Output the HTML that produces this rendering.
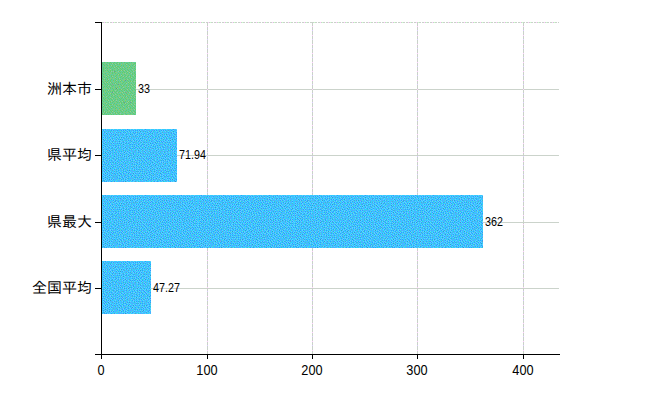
<!DOCTYPE html>
<html><head><meta charset="utf-8">
<style>
html,body{margin:0;padding:0;background:#fff;}
body{width:650px;height:400px;position:relative;overflow:hidden;font-family:"Liberation Sans","Noto Sans CJK JP",sans-serif;color:#000;}
.a{position:absolute;}
.g{position:absolute;background:#cbd3cb;}
.v{background:repeating-linear-gradient(180deg,#c9d2c9 0 4px,#fcf 4px 5px,#c9d2c9 5px 8px,#dcf 8px 9px);}
.k{position:absolute;background:#000;}
.bar{position:absolute;left:102px;height:53px;background:#43c0fa;}
.cat{position:absolute;right:558px;white-space:nowrap;font-family:"Liberation Sans","IPAGothic","Noto Sans CJK JP",sans-serif;font-size:15px;line-height:20px;height:20px;letter-spacing:0px;}
.xl{position:absolute;top:361px;width:60px;margin-left:-31px;text-align:center;font-size:14.8px;line-height:18px;height:18px;transform:scaleX(0.86);}
.dl{position:absolute;white-space:nowrap;font-size:12.5px;line-height:14px;height:14px;transform-origin:0 50%;transform:scaleX(0.86);}
</style></head><body>
<!-- gridlines -->
<div class="g" style="left:102px;top:22px;width:457px;height:1px;background:repeating-linear-gradient(90deg,#c9d2c9 0 2px,#fcf 2px 3px,#c9d2c9 3px 4px,#cfc 4px 5px,#c9d2c9 5px 7px,#fff 7px 8px)"></div>
<div class="g" style="left:102px;top:89px;width:457px;height:1px"></div>
<div class="g" style="left:102px;top:155px;width:457px;height:1px"></div>
<div class="g" style="left:102px;top:222px;width:457px;height:1px"></div>
<div class="g" style="left:102px;top:288px;width:457px;height:1px"></div>
<div class="g v" style="left:207px;top:22px;width:1px;height:332px"></div>
<div class="g v" style="left:312px;top:22px;width:1px;height:332px"></div>
<div class="g v" style="left:417px;top:22px;width:1px;height:332px"></div>
<div class="g v" style="left:523px;top:22px;width:1px;height:332px"></div>
<!-- bars -->
<div class="bar" style="top:62px;width:34px;background:#6ccb88"></div>
<div class="bar" style="top:129px;width:75px"></div>
<div class="bar" style="top:195px;width:381px"></div>
<div class="bar" style="top:261px;width:49px"></div>
<svg class="a" style="left:102px;top:62px" width="381" height="252" viewBox="0 0 381 252" shape-rendering="crispEdges"><defs><pattern id="pb" width="96" height="53" patternUnits="userSpaceOnUse"><rect width="96" height="53" fill="#33ccff"/><g transform="translate(0,.5)" stroke-width="1" fill="none"><path stroke="#3399ff" d="M3 0h1M25 0h1M43 0h1M71 0h1M79 0h1M1 1h1M9 1h1M11 1h1M15 1h1M19 1h1M21 1h1M23 1h1M27 1h1M31 1h1M33 1h1M35 1h1M37 1h1M52 1h1M54 1h1M59 1h1M61 1h1M63 1h1M69 1h1M75 1h1M77 1h1M83 1h1M85 1h1M87 1h1M92 1h1M25 2h1M43 2h1M49 2h1M57 2h1M90 2h1M2 3h1M8 3h1M14 3h1M18 3h1M21 3h1M23 3h1M28 3h1M31 3h1M33 3h1M35 3h1M45 3h1M48 3h1M55 3h1M66 3h1M74 3h1M79 3h1M81 3h1M83 3h1M85 3h1M9 4h1M32 4h1M37 4h1M39 4h1M42 4h1M47 4h1M58 4h1M69 4h1M71 4h1M78 4h1M86 4h1M5 5h1M7 5h1M11 5h1M13 5h1M21 5h1M24 5h1M30 5h1M35 5h1M41 5h1M46 5h1M56 5h1M60 5h1M62 5h1M72 5h1M82 5h1M84 5h1M90 5h1M13 6h1M16 6h1M33 6h1M49 6h1M58 6h1M67 6h1M94 6h1M8 7h1M11 7h1M25 7h1M27 7h1M37 7h1M40 7h1M42 7h1M45 7h1M48 7h1M50 7h1M53 7h1M56 7h1M60 7h1M63 7h1M65 7h1M72 7h1M74 7h1M76 7h1M80 7h1M85 7h1M90 7h1M1 8h1M3 8h1M7 8h1M14 8h1M17 8h1M21 8h1M24 8h1M46 8h1M61 8h1M69 8h1M83 8h1M89 8h1M10 9h1M34 9h1M36 9h1M40 9h1M48 9h1M53 9h1M55 9h1M59 9h1M64 9h1M68 9h1M74 9h1M76 9h1M80 9h1M91 9h1M8 10h1M14 10h1M16 10h1M20 10h1M31 10h1M52 10h1M57 10h1M61 10h1M72 10h1M78 10h1M87 10h1M2 11h1M11 11h1M26 11h1M28 11h1M32 11h1M34 11h1M37 11h1M39 11h1M44 11h1M47 11h1M54 11h1M63 11h1M66 11h1M76 11h1M80 11h1M83 11h1M89 11h1M7 12h1M10 12h1M29 12h1M36 12h1M49 12h1M55 12h1M57 12h1M59 12h1M61 12h1M71 12h1M77 12h1M84 12h1M88 12h1M91 12h1M3 13h1M21 13h1M24 13h1M31 13h1M39 13h1M42 13h1M44 13h1M60 13h1M63 13h1M65 13h1M67 13h1M73 13h1M75 13h1M79 13h1M87 13h1M1 14h1M9 14h1M11 14h1M15 14h1M17 14h1M19 14h1M23 14h1M26 14h1M50 14h1M54 14h1M77 14h1M82 14h1M90 14h1M93 14h1M3 15h1M28 15h1M30 15h1M32 15h1M40 15h1M42 15h1M46 15h1M52 15h1M62 15h1M66 15h1M68 15h1M83 15h1M86 15h1M1 16h1M7 16h1M11 16h1M16 16h1M34 16h1M39 16h1M44 16h1M49 16h1M55 16h1M57 16h1M63 16h1M75 16h1M77 16h1M81 16h1M91 16h1M93 16h1M95 16h1M5 17h1M14 17h1M21 17h1M30 17h1M32 17h1M36 17h1M38 17h1M42 17h1M46 17h1M51 17h1M53 17h1M60 17h1M68 17h1M71 17h1M73 17h1M83 17h1M88 17h1M90 17h1M1 18h1M7 18h1M10 18h1M13 18h1M16 18h1M33 18h1M48 18h1M55 18h1M58 18h1M61 18h1M70 18h1M76 18h1M92 18h1M95 18h1M9 19h1M21 19h1M24 19h1M28 19h1M30 19h1M32 19h1M35 19h1M37 19h1M40 19h1M45 19h1M51 19h1M53 19h1M72 19h1M74 19h1M82 19h1M4 20h1M14 20h1M39 20h1M47 20h1M56 20h1M61 20h1M69 20h1M79 20h1M89 20h1M93 20h1M95 20h1M7 21h1M10 21h1M13 21h1M21 21h1M27 21h1M66 21h1M70 21h1M77 21h1M80 21h1M91 21h1M1 22h1M8 22h1M19 22h1M23 22h1M25 22h1M42 22h1M56 22h1M65 22h1M72 22h1M82 22h1M85 22h1M90 22h1M6 23h1M12 23h1M27 23h1M36 23h1M43 23h1M48 23h1M62 23h1M81 23h1M1 24h1M4 24h1M8 24h1M16 24h1M18 24h1M24 24h1M31 24h1M38 24h1M51 24h1M57 24h1M75 24h1M82 24h1M86 24h1M92 24h1M94 24h1M7 25h1M14 25h1M22 25h1M26 25h1M31 25h1M49 25h1M55 25h1M61 25h1M63 25h1M73 25h1M77 25h1M80 25h1M87 25h1M91 25h1M2 26h1M18 26h1M20 26h1M27 26h1M29 26h1M36 26h1M38 26h1M45 26h1M58 26h1M64 26h1M68 26h1M75 26h1M89 26h1M94 26h1M3 27h1M5 27h1M24 27h1M31 27h1M39 27h1M42 27h1M47 27h1M49 27h1M51 27h1M53 27h1M60 27h1M62 27h1M66 27h1M72 27h1M74 27h1M77 27h1M81 27h1M91 27h1M1 28h1M16 28h1M44 28h1M55 28h1M57 28h1M63 28h1M68 28h1M83 28h1M85 28h1M89 28h1M92 28h1M94 28h1M3 29h1M7 29h1M11 29h1M14 29h1M24 29h1M27 29h1M32 29h1M35 29h1M37 29h1M41 29h1M47 29h1M49 29h1M59 29h1M61 29h1M75 29h1M77 29h1M87 29h1M1 30h1M16 30h1M21 30h1M30 30h1M42 30h1M46 30h1M50 30h1M55 30h1M63 30h1M66 30h1M84 30h1M89 30h1M91 30h1M94 30h1M4 31h1M7 31h1M9 31h1M13 31h1M28 31h1M33 31h1M37 31h1M39 31h1M43 31h1M48 31h1M52 31h1M59 31h1M61 31h1M67 31h1M74 31h1M77 31h1M79 31h1M82 31h1M86 31h1M1 32h1M15 32h1M19 32h1M22 32h1M30 32h1M40 32h1M44 32h1M56 32h1M65 32h1M71 32h1M84 32h1M87 32h1M90 32h1M93 32h1M95 32h1M2 33h1M8 33h1M11 33h1M13 33h1M21 33h1M34 33h1M37 33h1M42 33h1M55 33h1M59 33h1M61 33h1M73 33h1M77 33h1M82 33h1M88 33h1M91 33h1M4 34h1M15 34h1M23 34h1M30 34h1M35 34h1M39 34h1M45 34h1M48 34h1M52 34h1M63 34h1M65 34h1M68 34h1M75 34h1M79 34h1M90 34h1M1 35h1M3 35h1M6 35h1M9 35h1M17 35h1M19 35h1M26 35h1M32 35h1M37 35h1M51 35h1M54 35h1M61 35h1M70 35h1M85 35h1M5 36h1M15 36h1M20 36h1M39 36h1M49 36h1M56 36h1M67 36h1M70 36h1M83 36h1M91 36h1M0 37h1M9 37h1M11 37h1M13 37h1M17 37h1M19 37h1M23 37h1M29 37h1M31 37h1M43 37h1M45 37h1M48 37h1M58 37h1M66 37h1M76 37h1M81 37h1M85 37h1M92 37h1M94 37h1M4 38h1M10 38h1M20 38h1M25 38h1M32 38h1M34 38h1M37 38h1M39 38h1M41 38h1M46 38h1M50 38h1M68 38h1M74 38h1M78 38h1M82 38h1M86 38h1M88 38h1M90 38h1M1 39h1M6 39h1M16 39h1M18 39h1M30 39h1M48 39h1M57 39h1M59 39h1M63 39h1M65 39h1M70 39h1M72 39h1M76 39h1M80 39h1M84 39h1M92 39h1M94 39h1M2 40h1M12 40h1M21 40h1M32 40h1M34 40h1M36 40h1M40 40h1M50 40h1M52 40h1M78 40h1M85 40h1M3 41h1M16 41h1M25 41h1M46 41h1M48 41h1M54 41h1M63 41h1M69 41h1M71 41h1M73 41h1M77 41h1M81 41h1M94 41h1M2 42h1M7 42h1M12 42h1M14 42h1M21 42h1M23 42h1M34 42h1M36 42h1M38 42h1M40 42h1M49 42h1M59 42h1M64 42h1M66 42h1M75 42h1M85 42h1M87 42h1M5 43h1M9 43h1M17 43h1M24 43h1M27 43h1M47 43h1M54 43h1M61 43h1M70 43h1M76 43h1M80 43h1M91 43h1M93 43h1M10 44h1M12 44h1M15 44h1M18 44h1M21 44h1M33 44h1M37 44h1M40 44h1M42 44h1M49 44h1M51 44h1M66 44h1M74 44h1M1 45h1M5 45h1M13 45h1M19 45h1M28 45h1M47 45h1M55 45h1M59 45h1M70 45h1M72 45h1M80 45h1M88 45h1M90 45h1M92 45h1M94 45h1M3 46h1M9 46h1M23 46h1M33 46h1M36 46h1M40 46h1M43 46h1M45 46h1M49 46h1M51 46h1M57 46h1M61 46h1M64 46h1M75 46h1M81 46h1M86 46h1M1 47h1M5 47h1M22 47h1M26 47h1M29 47h1M41 47h1M47 47h1M55 47h1M59 47h1M62 47h1M65 47h1M70 47h1M73 47h1M78 47h1M84 47h1M88 47h1M90 47h1M7 48h1M15 48h1M20 48h1M24 48h1M33 48h1M35 48h1M37 48h1M39 48h1M49 48h1M51 48h1M57 48h1M71 48h1M75 48h1M80 48h1M82 48h1M86 48h1M94 48h1M1 49h1M5 49h1M17 49h1M21 49h1M26 49h1M47 49h1M65 49h1M67 49h1M77 49h1M84 49h1M87 49h1M95 49h1M3 50h1M9 50h1M11 50h1M19 50h1M23 50h1M32 50h1M38 50h1M40 50h1M46 50h1M49 50h1M51 50h1M62 50h1M68 50h1M74 50h1M76 50h1M81 50h1M91 50h1M1 51h1M25 51h1M30 51h1M44 51h1M58 51h1M60 51h1M66 51h1M72 51h1M78 51h1M85 51h1M87 51h1M92 51h1M95 51h1M2 52h1M4 52h1M9 52h1M12 52h1M21 52h1M52 52h1M55 52h1M68 52h1M79 52h1M81 52h1M89 52h1"/><path stroke="#66ccff" d="M4 0h1M8 0h1M11 0h1M15 0h1M19 0h1M24 0h1M28 0h1M31 0h1M34 0h1M41 0h1M48 0h1M52 0h1M55 0h1M59 0h1M64 0h1M69 0h1M74 0h1M80 0h1M83 0h1M88 0h1M92 0h1M0 1h1M2 1h1M10 1h1M20 1h1M22 1h1M25 1h1M32 1h1M36 1h1M38 1h1M43 1h1M53 1h1M60 1h1M62 1h1M71 1h1M76 1h1M78 1h1M84 1h1M86 1h1M91 1h1M14 2h1M23 2h1M26 2h1M30 2h1M34 2h1M37 2h1M46 2h1M50 2h1M54 2h1M59 2h1M63 2h1M66 2h1M69 2h1M74 2h1M79 2h1M82 2h1M85 2h1M87 2h1M93 2h1M1 3h1M4 3h1M7 3h1M9 3h1M13 3h1M20 3h1M24 3h1M27 3h1M29 3h1M32 3h1M39 3h1M42 3h1M47 3h1M49 3h1M57 3h1M70 3h1M72 3h1M75 3h1M80 3h1M84 3h1M90 3h1M3 4h1M8 4h1M10 4h1M14 4h1M17 4h1M21 4h1M23 4h1M34 4h1M38 4h1M40 4h1M45 4h1M51 4h1M56 4h1M60 4h1M65 4h1M70 4h1M73 4h1M77 4h1M79 4h1M82 4h1M85 4h1M89 4h1M4 5h1M6 5h1M12 5h1M22 5h1M27 5h1M31 5h1M33 5h1M36 5h1M42 5h1M47 5h1M49 5h1M58 5h1M63 5h1M71 5h1M83 5h1M86 5h1M91 5h1M94 5h1M11 6h1M14 6h1M25 6h1M28 6h1M32 6h1M35 6h1M40 6h1M42 6h1M45 6h1M48 6h1M51 6h1M57 6h1M63 6h1M66 6h1M72 6h1M75 6h1M1 7h1M7 7h1M13 7h1M15 7h1M19 7h1M21 7h1M26 7h1M36 7h1M39 7h1M49 7h1M52 7h1M55 7h1M61 7h1M64 7h1M68 7h1M70 7h1M73 7h1M79 7h1M86 7h1M89 7h1M91 7h1M94 7h1M2 8h1M4 8h1M8 8h1M11 8h1M16 8h1M18 8h1M23 8h1M25 8h1M28 8h1M38 8h1M41 8h1M45 8h1M48 8h1M58 8h1M60 8h1M65 8h1M74 8h1M76 8h1M81 8h1M84 8h1M88 8h1M1 9h1M8 9h1M14 9h1M18 9h1M20 9h1M33 9h1M35 9h1M37 9h1M44 9h1M47 9h1M52 9h1M54 9h1M56 9h1M61 9h1M63 9h1M69 9h1M73 9h1M79 9h1M82 9h1M87 9h1M90 9h1M2 10h1M4 10h1M9 10h1M11 10h1M15 10h1M21 10h1M27 10h1M30 10h1M34 10h1M39 10h1M41 10h1M48 10h1M51 10h1M58 10h1M66 10h1M68 10h1M71 10h1M75 10h1M77 10h1M83 10h1M86 10h1M89 10h1M0 11h1M10 11h1M12 11h1M16 11h1M18 11h1M25 11h1M31 11h1M33 11h1M36 11h1M38 11h1M43 11h1M52 11h1M55 11h1M57 11h1M62 11h1M65 11h1M69 11h1M72 11h1M81 11h1M84 11h1M91 11h1M3 12h1M6 12h1M8 12h1M19 12h1M22 12h1M26 12h1M31 12h1M35 12h1M39 12h1M48 12h1M53 12h1M58 12h1M60 12h1M63 12h1M66 12h1M68 12h1M72 12h1M79 12h1M82 12h1M85 12h1M87 12h1M92 12h1M95 12h1M2 13h1M9 13h1M11 13h1M14 13h1M16 13h1M18 13h1M23 13h1M25 13h1M29 13h1M37 13h1M40 13h1M49 13h1M54 13h1M56 13h1M61 13h1M71 13h1M74 13h1M77 13h1M88 13h1M90 13h1M93 13h1M0 14h1M3 14h1M10 14h1M20 14h1M22 14h1M28 14h1M30 14h1M32 14h1M39 14h1M42 14h1M44 14h1M47 14h1M52 14h1M65 14h1M69 14h1M75 14h1M79 14h1M83 14h1M86 14h1M91 14h1M95 14h1M1 15h1M11 15h1M17 15h1M19 15h1M23 15h1M26 15h1M35 15h1M38 15h1M43 15h1M48 15h1M50 15h1M53 15h1M55 15h1M63 15h1M67 15h1M77 15h1M82 15h1M87 15h1M94 15h1M3 16h1M6 16h1M21 16h1M29 16h1M33 16h1M36 16h1M40 16h1M42 16h1M46 16h1M50 16h1M52 16h1M61 16h1M64 16h1M68 16h1M72 16h1M83 16h1M90 16h1M1 17h1M4 17h1M7 17h1M10 17h1M12 17h1M15 17h1M17 17h1M22 17h1M33 17h1M37 17h1M40 17h1M43 17h1M45 17h1M49 17h1M54 17h1M57 17h1M62 17h1M67 17h1M70 17h1M74 17h1M78 17h1M81 17h1M87 17h1M91 17h1M93 17h1M95 17h1M2 18h1M5 18h1M8 18h1M11 18h1M14 18h1M17 18h1M21 18h1M24 18h1M29 18h2M32 18h1M35 18h1M38 18h1M42 18h1M51 18h1M54 18h1M59 18h1M69 18h1M71 18h1M75 18h1M77 18h1M89 18h1M93 18h1M1 19h1M13 19h1M20 19h1M23 19h1M26 19h1M34 19h1M36 19h1M39 19h1M44 19h1M48 19h1M52 19h1M55 19h1M57 19h1M60 19h1M62 19h1M71 19h1M73 19h1M75 19h1M81 19h1M85 19h1M95 19h1M7 20h1M9 20h1M15 20h1M22 20h1M28 20h1M30 20h1M32 20h1M37 20h1M40 20h1M50 20h1M54 20h1M57 20h1M67 20h1M78 20h1M87 20h1M90 20h1M92 20h1M94 20h1M2 21h1M4 21h1M8 21h1M12 21h1M35 21h1M39 21h1M42 21h1M46 21h1M53 21h1M56 21h1M61 21h1M65 21h1M69 21h1M71 21h1M74 21h1M79 21h1M82 21h1M84 21h1M95 21h1M0 22h1M6 22h1M9 22h1M12 22h1M22 22h1M24 22h1M27 22h1M35 22h1M43 22h1M49 22h1M55 22h1M71 22h1M77 22h1M81 22h1M2 23h1M4 23h1M18 23h1M20 23h1M23 23h1M25 23h1M29 23h1M39 23h1M42 23h1M44 23h1M47 23h1M57 23h1M61 23h1M64 23h1M67 23h1M73 23h1M76 23h1M94 23h1M5 24h1M9 24h1M12 24h1M15 24h1M17 24h1M22 24h1M26 24h1M32 24h1M37 24h1M52 24h1M55 24h1M71 24h1M74 24h1M78 24h1M81 24h1M85 24h1M88 24h1M91 24h1M93 24h1M2 25h1M4 25h1M6 25h1M9 25h1M15 25h1M18 25h1M27 25h1M30 25h1M38 25h1M51 25h1M56 25h1M60 25h1M64 25h1M67 25h1M72 25h1M76 25h1M79 25h1M83 25h1M86 25h1M90 25h1M94 25h1M7 26h1M13 26h1M19 26h1M21 26h1M23 26h1M26 26h1M31 26h1M35 26h1M37 26h1M39 26h1M42 26h1M44 26h1M46 26h1M49 26h1M57 26h1M59 26h1M61 26h1M63 26h1M66 26h1M70 26h1M74 26h1M77 26h1M80 26h1M88 26h1M92 26h1M95 26h1M0 27h1M2 27h1M4 27h1M10 27h1M17 27h1M21 27h1M25 27h1M28 27h1M30 27h1M36 27h1M40 27h1M48 27h1M50 27h1M55 27h1M68 27h1M71 27h1M75 27h1M83 27h1M89 27h1M92 27h1M94 27h1M3 28h1M6 28h1M12 28h1M15 28h1M23 28h1M26 28h1M34 28h1M38 28h1M41 28h1M43 28h1M45 28h1M47 28h1M53 28h1M56 28h1M60 28h1M62 28h1M64 28h1M66 28h1M69 28h1M72 28h1M74 28h1M77 28h1M80 28h1M84 28h1M87 28h1M90 28h1M0 29h1M2 29h1M8 29h1M13 29h1M17 29h1M28 29h1M31 29h1M33 29h1M36 29h1M42 29h1M50 29h1M58 29h1M63 29h1M67 29h1M76 29h1M82 29h1M85 29h1M89 29h1M92 29h1M94 29h1M4 30h1M10 30h1M15 30h1M23 30h1M27 30h1M34 30h1M37 30h1M40 30h1M43 30h1M47 30h1M49 30h1M53 30h1M56 30h1M59 30h1M61 30h1M68 30h1M74 30h1M77 30h1M80 30h1M83 30h1M86 30h1M90 30h1M95 30h1M0 31h1M2 31h1M6 31h1M11 31h1M14 31h1M20 31h1M29 31h1M31 31h2M44 31h1M50 31h1M53 31h1M62 31h1M64 31h1M66 31h1M72 31h1M78 31h1M81 31h1M84 31h1M87 31h1M89 31h1M91 31h1M93 31h1M3 32h1M8 32h1M13 32h1M18 32h1M21 32h1M23 32h1M27 32h1M33 32h1M36 32h1M39 32h1M42 32h1M45 32h1M51 32h1M58 32h1M60 32h1M66 32h1M70 32h1M73 32h1M77 32h1M83 32h1M94 32h1M1 33h1M12 33h1M15 33h1M19 33h1M22 33h1M30 33h1M38 33h1M43 33h1M52 33h1M56 33h1M58 33h1M60 33h1M62 33h1M75 33h1M79 33h1M81 33h1M87 33h1M90 33h1M95 33h1M1 34h1M5 34h1M8 34h1M10 34h1M16 34h1M26 34h1M31 34h1M33 34h1M36 34h1M40 34h1M44 34h1M47 34h1M49 34h1M51 34h1M54 34h1M66 34h1M72 34h1M78 34h1M86 34h1M89 34h1M4 35h1M8 35h1M15 35h1M24 35h1M27 35h1M49 35h1M52 35h1M60 35h1M64 35h1M67 35h1M69 35h1M74 35h1M80 35h1M82 35h1M84 35h1M91 35h1M0 36h1M2 36h1M6 36h1M9 36h1M12 36h1M17 36h1M19 36h1M21 36h1M26 36h1M29 36h1M31 36h1M33 36h1M35 36h1M37 36h1M40 36h1M44 36h1M46 36h1M48 36h1M54 36h1M57 36h1M61 36h1M68 36h1M71 36h1M75 36h1M85 36h1M90 36h1M93 36h1M4 37h1M10 37h1M14 37h1M20 37h1M24 37h1M39 37h1M42 37h1M46 37h1M50 37h1M55 37h1M59 37h1M65 37h1M69 37h1M75 37h1M80 37h1M82 37h1M86 37h1M91 37h1M95 37h1M1 38h1M5 38h1M9 38h1M18 38h1M21 38h1M23 38h1M29 38h1M33 38h1M35 38h1M40 38h1M43 38h1M45 38h1M48 38h1M51 38h1M57 38h1M60 38h1M63 38h1M66 38h2M70 38h1M73 38h1M77 38h1M80 38h1M83 38h1M87 38h1M89 38h1M3 39h1M7 39h1M13 39h1M17 39h1M31 39h1M36 39h1M38 39h1M41 39h1M47 39h1M50 39h1M53 39h1M56 39h1M58 39h1M64 39h1M69 39h1M71 39h1M75 39h1M78 39h1M81 39h1M85 39h1M93 39h1M95 39h1M1 40h1M6 40h1M11 40h1M20 40h1M26 40h1M28 40h1M31 40h1M33 40h1M46 40h1M54 40h1M59 40h1M62 40h1M72 40h1M77 40h1M80 40h1M82 40h1M84 40h1M94 40h1M2 41h1M7 41h1M12 41h1M15 41h1M22 41h1M34 41h1M36 41h1M41 41h1M47 41h1M51 41h1M53 41h1M64 41h1M66 41h1M70 41h1M75 41h1M78 41h1M87 41h1M3 42h1M5 42h1M8 42h1M17 42h1M20 42h1M25 42h1M27 42h1M37 42h1M45 42h1M54 42h1M57 42h1M60 42h1M63 42h1M71 42h1M73 42h1M76 42h1M81 42h1M84 42h1M86 42h1M90 42h1M93 42h1M1 43h1M6 43h1M10 43h1M12 43h1M15 43h1M18 43h1M22 43h2M28 43h1M31 43h1M34 43h1M36 43h1M39 43h1M41 43h1M49 43h1M51 43h1M53 43h1M59 43h1M65 43h1M67 43h1M74 43h1M77 43h1M92 43h1M2 44h1M4 44h1M20 44h1M25 44h1M27 44h1M32 44h1M43 44h1M46 44h1M48 44h1M52 44h1M60 44h1M70 44h1M80 44h1M89 44h1M91 44h1M94 44h1M0 45h1M3 45h1M6 45h1M10 45h1M14 45h1M17 45h1M20 45h1M30 45h1M33 45h1M37 45h1M40 45h1M43 45h1M45 45h1M49 45h1M56 45h1M58 45h1M61 45h1M66 45h1M71 45h1M73 45h1M76 45h1M81 45h1M86 45h1M93 45h1M1 46h1M5 46h1M8 46h1M18 46h1M27 46h1M31 46h1M41 46h1M44 46h1M47 46h1M52 46h1M55 46h1M58 46h1M60 46h1M63 46h1M65 46h1M69 46h1M71 46h1M74 46h1M79 46h1M82 46h1M85 46h1M88 46h1M90 46h1M2 47h1M4 47h1M7 47h1M9 47h1M16 47h1M21 47h1M24 47h1M28 47h1M30 47h1M35 47h1M40 47h1M42 47h1M45 47h1M48 47h1M51 47h1M56 47h1M61 47h1M72 47h1M75 47h1M79 47h1M81 47h1M86 47h1M89 47h1M91 47h1M1 48h1M16 48h1M18 48h1M21 48h1M25 48h1M36 48h1M46 48h1M50 48h1M54 48h1M58 48h1M60 48h1M65 48h1M67 48h1M70 48h1M73 48h1M83 48h2M87 48h1M93 48h1M95 48h1M3 49h1M6 49h1M8 49h1M11 49h1M19 49h1M22 49h1M24 49h1M32 49h1M34 49h1M38 49h1M40 49h1M42 49h1M48 49h1M52 49h1M55 49h1M57 49h1M62 49h1M64 49h1M70 49h1M75 49h1M81 49h1M85 49h1M88 49h1M90 49h1M92 49h1M0 50h1M2 50h1M4 50h1M8 50h1M10 50h1M18 50h1M22 50h1M25 50h1M44 50h1M47 50h1M50 50h1M58 50h1M60 50h1M65 50h1M67 50h1M69 50h1M71 50h1M75 50h1M77 50h1M80 50h1M83 50h1M3 51h1M9 51h1M20 51h1M24 51h1M29 51h1M32 51h1M37 51h1M40 51h1M54 51h1M59 51h1M62 51h1M73 51h1M77 51h1M79 51h1M81 51h1M86 51h1M91 51h1M94 51h1M1 52h1M5 52h1M7 52h1M13 52h1M22 52h1M25 52h1M28 52h1M31 52h1M35 52h1M43 52h1M47 52h1M50 52h1M53 52h1M57 52h1M60 52h1M65 52h1M69 52h1M71 52h1M74 52h1M90 52h1M93 52h1"/><path stroke="#6699ff" d="M5 1h1M7 1h1M13 1h1M17 1h1M29 1h1M40 1h1M45 1h1M47 1h1M50 1h1M57 1h1M65 1h1M67 1h1M73 1h1M81 1h1M89 1h1M94 1h1M3 2h1M6 3h1M11 3h1M52 3h1M62 3h1M64 3h1M68 3h1M77 3h1M88 3h1M92 3h1M95 3h1M1 4h1M19 4h1M26 4h1M54 4h1M93 4h1M15 5h1M18 5h1M44 5h1M52 5h1M66 5h1M74 5h1M76 5h1M80 5h1M88 5h1M1 6h1M3 6h1M9 6h1M20 6h1M23 6h1M38 6h1M54 6h1M69 6h1M78 6h1M87 6h1M92 6h1M5 7h1M29 7h1M34 7h1M82 7h1M32 8h1M43 8h1M67 8h1M71 8h1M78 8h1M93 8h1M5 9h1M12 9h1M29 9h1M50 9h1M85 9h1M95 9h1M24 10h1M45 10h1M64 10h1M94 10h1M5 11h1M23 11h1M50 11h1M74 11h1M93 11h1M1 12h1M15 12h1M20 12h1M41 12h1M5 13h1M27 13h1M33 13h1M46 13h1M51 13h1M69 13h1M81 13h1M7 14h1M13 14h1M34 14h1M37 14h1M57 14h1M85 14h1M5 15h1M58 15h1M60 15h1M70 15h1M72 15h1M74 15h1M9 16h1M19 16h1M24 16h1M27 16h1M79 16h1M85 16h1M25 17h1M19 18h1M63 18h1M66 18h1M80 18h1M84 18h1M86 18h1M3 19h1M6 19h1M17 19h1M49 19h1M65 19h1M68 19h1M88 19h1M91 19h1M11 20h1M19 20h1M25 20h1M42 20h1M59 20h1M63 20h1M76 20h1M83 20h1M16 21h1M29 21h1M44 21h1M48 21h1M51 21h1M73 21h1M86 21h1M30 22h1M32 22h1M37 22h1M40 22h1M46 22h1M52 22h1M58 22h1M60 22h1M63 22h1M68 22h1M75 22h1M88 22h1M93 22h1M10 23h1M14 23h1M33 23h1M50 23h1M54 23h1M70 23h1M79 23h1M84 23h1M20 24h1M29 24h1M40 24h1M45 24h1M59 24h1M65 24h1M68 24h1M89 24h1M12 25h1M34 25h1M41 25h1M43 25h1M47 25h1M53 25h1M70 25h1M10 26h1M54 26h1M85 26h1M7 27h1M14 27h1M33 27h1M79 27h1M87 27h1M9 28h1M18 28h1M20 28h1M29 28h1M5 29h1M22 29h1M39 29h1M45 29h1M52 29h1M65 29h1M70 29h1M73 29h1M79 29h1M12 30h1M19 30h1M71 30h1M17 31h1M24 31h1M26 31h1M35 31h1M57 31h1M69 31h1M5 32h1M10 32h1M49 32h1M54 32h1M63 32h1M75 32h1M80 32h1M6 33h1M17 33h1M25 33h1M28 33h1M32 33h1M46 33h1M69 33h1M85 33h1M83 34h1M93 34h1M11 35h1M13 35h1M22 35h1M29 35h1M41 35h1M43 35h1M58 35h1M72 35h1M77 35h1M87 35h1M94 35h1M64 36h1M79 36h1M88 36h1M7 37h1M27 37h1M36 37h1M52 37h1M62 37h1M72 37h1M15 38h1M54 38h1M22 39h1M27 39h1M44 39h1M61 39h1M4 40h1M9 40h1M24 40h1M38 40h1M42 40h1M66 40h1M68 40h1M74 40h1M87 40h1M89 40h1M19 41h1M29 41h1M44 41h1M56 41h1M58 41h1M61 41h1M83 41h1M90 41h1M92 41h1M0 42h1M30 42h1M32 42h1M68 42h1M79 42h1M95 42h1M45 43h1M56 43h1M72 43h1M82 43h1M88 43h1M7 44h1M29 44h1M35 44h1M62 44h1M64 44h1M68 44h1M78 44h1M84 44h1M86 44h1M22 45h1M53 45h1M83 45h1M11 46h1M15 46h1M25 46h1M38 46h1M67 46h1M77 46h1M95 46h1M13 47h1M19 47h1M32 47h1M53 47h1M68 47h1M10 48h1M12 48h1M43 48h1M63 48h1M14 49h1M28 49h1M30 49h1M45 49h1M73 49h1M79 49h1M13 50h1M34 50h1M36 50h1M53 50h1M56 50h1M89 50h1M93 50h1M6 51h1M16 51h1M27 51h1M42 51h1M48 51h1M64 51h1M83 51h1M17 52h1M19 52h1M38 52h1M40 52h1M76 52h1"/><path stroke="#33cccc" d="M66 1h1M2 2h1M6 2h1M8 2h1M22 2h1M27 2h1M47 2h1M51 2h1M64 2h1M75 2h1M89 2h1M92 2h1M69 3h1M78 3h1M82 3h1M86 3h1M24 4h1M14 5h1M20 5h1M48 5h1M73 5h1M92 5h1M2 6h1M12 6h1M39 6h1M43 6h1M76 6h1M88 6h1M24 7h1M33 7h1M35 7h1M54 7h1M71 7h1M78 7h1M5 8h1M29 8h1M40 8h1M44 8h1M51 8h1M64 8h1M90 8h1M94 8h1M15 9h1M62 9h1M67 9h1M75 9h1M3 10h1M10 10h1M49 10h1M73 10h1M24 11h1M58 11h1M21 12h1M34 12h1M6 13h1M10 13h1M28 13h1M32 13h1M38 13h1M41 13h1M55 13h1M84 13h1M2 14h1M24 14h1M73 14h1M4 15h1M18 15h1M27 15h1M41 15h1M51 16h1M70 16h1M84 16h1M94 17h1M6 18h1M18 18h1M31 18h1M34 18h1M37 18h1M40 18h1M53 18h1M62 18h1M68 18h1M73 18h1M90 18h1M10 19h1M15 19h1M50 19h1M56 19h1M87 19h1M93 19h1M12 20h1M29 20h1M66 20h1M71 20h1M9 21h1M23 21h1M40 21h1M43 21h1M59 21h1M68 21h1M75 21h1M47 22h1M62 22h1M94 22h1M31 23h1M38 23h1M51 23h1M58 23h1M10 24h1M13 24h1M28 24h1M41 24h1M46 24h1M54 24h1M70 24h1M80 24h1M19 25h1M44 25h1M75 25h1M92 25h1M28 26h1M32 26h1M56 26h1M60 26h1M87 26h1M90 26h1M8 27h1M38 27h1M41 27h1M64 27h1M78 27h1M2 28h1M4 28h1M19 28h1M31 28h1M48 28h1M75 28h1M93 28h1M10 29h1M15 29h1M44 29h1M68 29h1M91 29h1M13 30h1M20 30h1M35 30h1M51 30h1M60 30h1M65 30h1M76 30h1M87 30h1M1 31h1M5 31h1M18 31h1M58 31h1M63 31h1M70 31h1M73 31h1M83 31h1M25 32h1M29 32h1M32 32h1M53 32h1M79 32h1M10 33h1M16 33h1M23 33h1M44 33h1M72 33h1M86 33h1M6 34h1M13 34h1M27 34h1M41 34h1M84 34h1M30 35h1M93 35h1M10 36h1M45 36h1M63 36h1M69 36h1M89 36h1M6 37h1M21 37h1M37 37h1M40 37h1M49 37h1M67 37h1M42 38h1M58 38h1M79 38h1M95 38h1M4 39h1M23 39h1M51 39h1M73 39h1M86 39h1M37 40h1M44 40h1M61 40h1M65 40h1M69 40h1M76 40h1M81 40h1M1 41h1M21 41h1M32 41h1M57 41h1M67 41h1M84 41h1M4 42h1M35 42h1M65 42h1M72 42h1M78 42h1M88 42h1M92 42h1M20 43h1M60 43h1M63 43h1M86 43h1M81 44h1M90 44h1M42 45h1M48 45h1M52 45h1M69 45h1M79 45h1M19 46h1M39 46h1M73 46h1M84 46h1M87 46h1M11 47h1M14 47h1M58 47h1M63 47h1M66 47h1M32 48h1M44 48h1M69 48h1M10 49h1M18 49h1M25 49h1M35 49h1M49 49h1M72 49h1M80 49h1M83 49h1M89 49h1M21 50h1M57 50h1M78 50h1M2 51h1M28 51h1M55 51h1M63 51h1M76 51h1M36 52h1M49 52h1M61 52h1M83 52h1M92 52h1"/><path stroke="#66cccc" d="M11 2h1M18 2h1M56 2h1M34 3h1M36 3h1M44 3h1M30 4h1M55 5h1M61 5h1M68 5h1M7 6h1M17 6h1M59 6h1M81 6h1M84 6h1M10 7h1M46 7h1M7 10h1M54 10h1M60 10h1M80 10h1M92 10h1M29 11h1M46 11h1M78 11h1M44 12h1M76 12h1M89 12h1M64 13h1M59 14h1M62 14h1M67 14h1M8 15h1M15 15h1M45 15h1M80 15h1M92 15h1M31 16h1M56 16h1M76 16h1M87 16h1M47 17h1M59 17h1M82 18h1M46 19h1M80 20h1M20 21h1M26 21h1M89 21h1M14 22h1M66 22h1M91 22h1M7 23h1M82 23h1M86 23h1M35 24h1M49 24h1M62 24h1M1 25h1M24 25h1M52 27h1M58 27h1M25 29h1M55 29h1M7 30h1M38 31h1M41 31h1M47 32h1M88 32h1M35 33h1M67 33h1M92 33h1M3 34h1M20 34h1M61 34h1M64 34h1M70 34h1M76 34h1M18 35h1M38 35h1M55 35h1M16 37h1M32 37h1M77 37h1M84 37h1M12 38h1M26 38h1M30 38h1M92 38h1M19 39h1M90 39h1M17 40h1M49 40h1M24 41h1M39 41h1M13 42h1M48 42h1M9 44h1M16 44h1M38 44h1M55 44h1M75 44h1M12 45h1M24 45h1M22 46h1M34 46h1M50 46h1M37 47h1M5 48h1M27 48h1M77 48h1M16 50h1M30 50h1M39 50h1M85 50h1M95 50h1M14 51h1M45 51h1M51 51h1M67 51h1M88 51h1M11 52h1"/><path stroke="#3399cc" d="M38 2h1M71 2h1M4 4h1M50 4h1M28 5h1M64 5h1M19 8h1M87 8h1M38 9h1M1 10h1M18 10h1M70 10h1M82 10h1M68 11h1M86 11h1M17 12h1M53 13h1M94 13h1M48 14h1M21 15h1M36 15h1M3 17h1M23 18h1M43 18h1M78 18h1M85 20h1M36 21h1M54 21h1M3 23h1M22 23h1M77 23h1M72 24h1M5 25h1M66 25h1M84 25h1M12 27h1M22 27h1M26 27h1M35 27h1M70 27h1M81 29h1M50 33h1M47 35h1M81 35h1M34 36h1M53 36h1M74 36h1M60 37h1M8 39h1M55 39h1M6 41h1M27 41h1M52 42h1M3 44h1M26 44h1M31 44h1M44 44h1M58 44h1M7 46h1M17 46h1M30 46h1M3 48h1M91 48h1M41 49h1M54 49h1M60 49h1M7 50h1M70 50h1M23 52h1M73 52h1"/><path stroke="#6699cc" d="M41 2h1M16 3h1M60 3h1M31 7h1M57 8h1M22 9h1M26 9h1M42 10h1M13 12h1M89 15h1M13 16h1M65 17h1M27 18h1M1 20h1M5 21h1M33 21h1M17 22h1M16 26h1M82 26h1M57 34h1M24 36h1M2 37h1M14 40h1M10 41h1M42 42h1M92 46h1M33 52h1"/></g></pattern><pattern id="pg" width="34" height="53" patternUnits="userSpaceOnUse"><rect width="34" height="53" fill="#66cc99"/><g transform="translate(0,.5)" stroke-width="1" fill="none"><path stroke="#66cc66" d="M2 0h1M5 0h1M8 0h1M12 0h1M15 0h1M19 0h1M22 0h1M27 0h1M29 0h1M0 1h1M7 1h1M9 1h1M11 1h1M14 1h1M17 1h1M24 1h2M32 1h2M1 2h1M4 2h1M7 2h1M12 2h1M15 2h1M17 2h1M23 2h1M26 2h1M31 2h1M2 3h1M5 3h1M8 3h1M10 3h1M13 3h1M19 3h1M21 3h1M24 3h1M27 3h1M30 3h1M33 3h1M10 4h1M13 4h1M15 4h2M18 4h1M21 4h1M28 4h1M32 4h1M1 5h1M4 5h1M7 5h1M9 5h1M11 5h1M14 5h1M17 5h1M22 5h1M25 5h1M27 5h1M29 5h1M1 6h1M3 6h1M5 6h1M8 6h1M12 6h1M15 6h1M18 6h1M20 6h1M23 6h1M30 6h1M32 6h1M1 7h1M10 7h1M16 7h1M19 7h1M22 7h1M25 7h1M28 7h1M33 7h1M1 8h1M3 8h1M5 8h1M8 8h1M10 8h1M12 8h1M15 8h1M18 8h1M20 8h1M23 8h1M26 8h1M29 8h1M32 8h1M1 9h1M6 9h1M8 9h1M13 9h1M17 9h1M21 9h1M24 9h1M27 9h1M30 9h1M7 10h1M10 10h1M12 10h1M18 10h1M20 10h1M22 10h1M25 10h1M28 10h1M32 10h1M0 11h1M3 11h1M10 11h1M13 11h1M16 11h1M24 11h1M27 11h1M30 11h1M32 11h1M1 12h1M6 12h1M15 12h1M17 12h1M19 12h1M22 12h1M30 12h1M33 12h1M4 13h1M7 13h1M9 13h1M11 13h1M14 13h1M17 13h1M20 13h1M23 13h1M26 13h1M28 13h1M32 13h1M1 14h1M5 14h1M9 14h1M13 14h1M19 14h1M22 14h1M25 14h1M28 14h1M30 14h1M33 14h1M2 15h1M4 15h1M7 15h1M10 15h1M14 15h1M18 15h1M21 15h1M24 15h1M28 15h1M31 15h1M0 16h1M5 16h1M13 16h1M16 16h1M20 16h1M23 16h1M26 16h1M29 16h1M32 16h1M1 17h1M3 17h1M5 17h1M9 17h1M14 17h1M16 17h1M18 17h1M24 17h1M27 17h1M31 17h1M6 18h1M8 18h1M11 18h1M13 18h1M19 18h1M25 18h1M28 18h1M31 18h1M33 18h1M0 19h1M3 19h1M5 19h1M8 19h1M14 19h1M16 19h1M18 19h1M22 19h1M26 19h1M28 19h1M30 19h1M1 20h1M4 20h1M7 20h1M9 20h1M13 20h1M16 20h1M21 20h1M24 20h1M27 20h1M31 20h1M33 20h1M2 21h1M5 21h1M10 21h1M12 21h1M14 21h1M20 21h1M23 21h1M26 21h1M29 21h1M33 21h1M0 22h1M3 22h1M6 22h1M8 22h1M15 22h1M18 22h1M22 22h1M27 22h1M30 22h1M32 22h1M5 23h1M9 23h1M11 23h1M13 23h1M19 23h1M21 23h1M24 23h1M26 23h1M28 23h1M31 23h1M2 24h1M4 24h1M7 24h1M10 24h1M17 24h1M20 24h1M29 24h1M32 24h1M1 25h1M5 25h1M8 25h1M13 25h1M15 25h1M19 25h1M24 25h1M26 25h1M28 25h1M30 25h1M33 25h1M6 26h1M8 26h1M10 26h1M21 26h2M25 26h1M28 26h1M31 26h1M0 27h1M11 27h1M13 27h1M15 27h1M17 27h2M20 27h1M23 27h1M26 27h1M29 27h1M32 27h1M1 28h1M3 28h1M5 28h1M7 28h1M11 28h1M15 28h1M19 28h1M22 28h1M24 28h1M27 28h1M30 28h1M33 28h1M1 29h1M6 29h1M8 29h1M10 29h1M12 29h1M14 29h1M17 29h1M20 29h1M25 29h1M28 29h1M4 30h1M13 30h1M16 30h1M21 30h1M23 30h1M26 30h1M29 30h1M32 30h1M3 31h1M5 31h1M7 31h1M9 31h1M11 31h1M14 31h1M19 31h1M24 31h1M28 31h1M30 31h1M1 32h1M5 32h1M9 32h1M12 32h1M15 32h1M17 32h1M20 32h1M22 32h1M25 32h1M32 32h1M2 33h1M4 33h1M7 33h1M10 33h1M13 33h1M18 33h1M21 33h1M23 33h1M27 33h1M29 33h1M31 33h1M0 34h1M3 34h1M6 34h1M9 34h1M12 34h1M15 34h1M23 34h1M25 34h1M30 34h1M33 34h1M1 35h1M5 35h1M10 35h1M13 35h1M16 35h1M20 35h1M22 35h1M26 35h1M28 35h1M31 35h1M1 36h1M3 36h1M6 36h1M8 36h1M11 36h1M17 36h1M19 36h1M23 36h1M30 36h1M32 36h1M2 37h1M7 37h1M9 37h1M13 37h1M15 37h1M18 37h1M21 37h1M24 37h1M27 37h1M33 37h1M0 38h1M3 38h1M5 38h1M10 38h1M12 38h1M17 38h1M20 38h1M28 38h1M30 38h1M32 38h1M1 39h1M6 39h1M8 39h1M11 39h1M14 39h1M18 39h1M21 39h1M23 39h1M25 39h1M27 39h1M30 39h1M4 40h1M8 40h1M10 40h1M15 40h1M17 40h1M19 40h1M21 40h1M26 40h1M29 40h1M0 41h1M3 41h1M6 41h1M12 41h1M19 41h1M22 41h1M24 41h1M27 41h1M30 41h1M33 41h1M1 42h1M5 42h1M8 42h2M11 42h1M14 42h1M20 42h1M23 42h1M26 42h1M28 42h1M31 42h1M2 43h1M4 43h1M6 43h1M15 43h1M17 43h1M19 43h1M22 43h1M25 43h1M29 43h1M32 43h1M1 44h1M7 44h1M9 44h2M13 44h1M20 44h1M24 44h1M27 44h1M30 44h1M33 44h1M0 45h1M3 45h1M5 45h1M8 45h1M11 45h1M14 45h1M18 45h1M21 45h1M25 45h1M28 45h1M31 45h1M6 46h1M9 46h1M13 46h1M17 46h1M22 46h1M28 46h1M30 46h1M32 46h1M1 47h1M4 47h1M7 47h1M20 47h1M26 47h1M33 47h1M1 48h1M5 48h1M8 48h1M10 48h1M13 48h1M15 48h1M18 48h1M21 48h1M24 48h1M28 48h1M31 48h1M1 49h1M3 49h1M9 49h1M12 49h1M19 49h1M23 49h1M26 49h1M29 49h1M32 49h1M3 50h1M5 50h1M7 50h1M10 50h1M13 50h1M15 50h1M17 50h1M20 50h1M27 50h1M30 50h1M33 50h1M0 51h1M2 51h1M8 51h1M13 51h1M16 51h1M23 51h1M28 51h1M31 51h1M1 52h1M4 52h1M6 52h1M9 52h1M11 52h1M14 52h1M17 52h1M19 52h2M24 52h1M32 52h1"/><path stroke="#99cc66" d="M3 1h1M21 1h1M30 1h1M19 2h1M28 2h1M3 4h1M6 4h1M24 4h1M31 5h1M26 6h1M6 7h1M13 7h1M4 9h1M2 10h1M14 10h1M5 11h1M8 11h1M21 11h1M12 12h1M25 12h1M2 13h1M16 14h1M8 16h1M11 16h1M22 17h1M2 18h1M21 18h1M11 19h1M19 20h1M17 21h1M1 23h1M16 23h1M14 24h1M23 24h1M11 25h1M17 25h1M2 26h1M4 26h1M9 28h1M3 29h1M31 29h1M18 30h1M1 31h1M26 32h1M16 33h1M19 34h1M14 36h1M25 36h1M28 36h1M4 37h1M23 38h1M2 40h1M13 40h1M32 40h1M16 42h1M12 43h1M16 45h1M2 46h1M19 46h1M24 46h1M11 47h1M14 47h1M17 47h1M22 47h1M29 47h1M6 49h1M16 49h1M22 50h1M25 50h1M26 52h1M29 52h1"/><path stroke="#99cc99" d="M10 1h1M16 1h1M6 2h1M13 2h1M24 2h1M9 3h1M32 3h1M14 4h1M27 4h1M12 5h1M18 5h1M21 5h1M16 6h1M3 7h1M8 7h1M30 7h1M19 8h1M22 8h1M33 8h1M9 9h1M11 9h1M16 9h1M25 9h1M31 9h1M27 10h1M23 11h1M29 11h1M16 12h1M6 13h1M19 13h1M31 13h1M4 14h1M10 14h1M21 14h1M24 14h1M27 14h1M13 15h1M29 15h1M2 16h1M17 16h1M6 17h1M25 17h1M33 17h1M14 18h1M18 18h1M29 19h1M32 19h1M3 20h1M5 20h1M8 20h1M26 20h1M13 21h1M24 21h1M29 22h1M6 23h1M20 23h1M32 23h1M8 24h1M26 24h1M30 24h1M21 25h1M7 26h1M15 26h1M33 26h1M19 27h1M25 27h1M28 27h1M6 28h1M13 28h1M22 29h1M11 30h1M15 30h1M20 30h1M27 30h1M6 31h1M8 31h1M13 32h1M21 32h1M30 32h1M11 33h1M33 33h1M1 34h1M4 34h1M24 34h1M29 34h1M8 35h1M17 35h1M21 35h1M32 35h1M10 36h1M6 38h1M11 38h1M14 38h1M9 39h1M17 39h1M20 39h1M26 39h1M29 39h1M7 40h1M25 40h1M4 41h1M18 41h1M23 41h1M10 42h1M29 42h1M32 42h1M1 43h1M7 43h1M26 43h1M4 44h1M14 44h1M21 44h1M31 44h1M9 45h1M26 45h1M5 46h1M32 47h1M7 48h1M20 48h1M2 49h1M10 49h1M28 49h1M4 50h1M12 50h1M31 50h1M1 51h1M9 51h1M14 51h1M18 51h1M22 52h1"/><path stroke="#669999" d="M12 9h1M23 18h1M16 22h1M10 30h1M22 40h1M28 40h1"/><path stroke="#999999" d="M10 22h1M24 30h1"/><path stroke="#669966" d="M14 26h1"/></g></pattern></defs><rect x="0" y="0" width="34" height="53" fill="url(#pg)"/><g transform="translate(0,67)"><rect width="75" height="53" fill="url(#pb)"/></g><g transform="translate(0,133)"><rect width="381" height="53" fill="url(#pb)"/></g><g transform="translate(0,199)"><rect width="49" height="53" fill="url(#pb)"/></g></svg>
<!-- axes -->
<div class="k" style="left:101px;top:22px;width:1px;height:333px"></div>
<div class="k" style="left:95px;top:354px;width:465px;height:1px"></div>
<div class="k" style="left:95px;top:22px;width:6px;height:1px"></div>
<div class="k" style="left:95px;top:89px;width:6px;height:1px"></div>
<div class="k" style="left:95px;top:155px;width:6px;height:1px"></div>
<div class="k" style="left:95px;top:222px;width:6px;height:1px"></div>
<div class="k" style="left:95px;top:288px;width:6px;height:1px"></div>
<div class="k" style="left:101px;top:354px;width:1px;height:5px"></div>
<div class="k" style="left:207px;top:354px;width:1px;height:5px"></div>
<div class="k" style="left:312px;top:354px;width:1px;height:5px"></div>
<div class="k" style="left:417px;top:354px;width:1px;height:5px"></div>
<div class="k" style="left:523px;top:354px;width:1px;height:5px"></div>
<!-- category labels -->
<div class="cat" style="top:79px">洲本市</div>
<div class="cat" style="top:145px">県平均</div>
<div class="cat" style="top:212px">県最大</div>
<div class="cat" style="top:278px">全国平均</div>
<!-- x labels -->
<div class="xl" style="left:102.2px">0</div>
<div class="xl" style="left:207.5px">100</div>
<div class="xl" style="left:312.5px">200</div>
<div class="xl" style="left:417.5px">300</div>
<div class="xl" style="left:523.5px">400</div>
<!-- data labels -->
<div class="dl" style="left:137.5px;top:82px">33</div>
<div class="dl" style="left:179px;top:148px">71.94</div>
<div class="dl" style="left:484.5px;top:215px">362</div>
<div class="dl" style="left:153px;top:281px">47.27</div>
</body></html>
